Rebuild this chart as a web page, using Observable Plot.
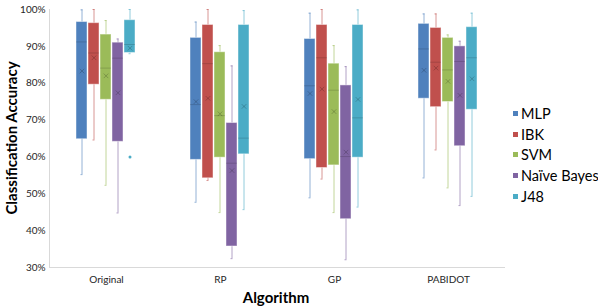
<!DOCTYPE html>
<html>
<head>
<meta charset="utf-8">
<script src="https://cdn.jsdelivr.net/npm/d3@7"></script>
<script src="https://cdn.jsdelivr.net/npm/@observablehq/plot@0.6"></script>
<style>
  html, body { margin: 0; padding: 0; background: #fff; }
  #wrap { position: relative; width: 598px; height: 307px; font-family: Lato, "Open Sans", sans-serif; }
  #wrap svg { color: #d9d9d9; }
  #wrap svg text { fill: #262626; }
  .ytitle { position: absolute; left: 11px; top: 138px; transform: translate(-50%, -50%) rotate(-90deg);
    font-weight: bold; font-size: 15px; white-space: nowrap; color: #000; }
  .xtitle { position: absolute; left: 276px; top: 297px; transform: translate(-50%, -50%);
    font-weight: bold; font-size: 15px; white-space: nowrap; color: #000; }
  .legend { position: absolute; left: 513px; top: 103px; font-size: 14.5px; color: #000; }
  .legend div { height: 20.7px; display: flex; align-items: center; white-space: nowrap; }
  .legend span.sw { display: inline-block; width: 5px; height: 5px; margin-right: 3px; }
</style>
</head>
<body>
<div id="wrap"></div>
<script>
const groups = ["Original", "RP", "GP", "PABIDOT"];
const classifiers = ["MLP", "IBK", "SVM", "Naïve Bayes", "J48"];
const colors = ["#4F81BD", "#C0504D", "#9BBB59", "#8064A2", "#4BACC6"];
const yTicks = [30, 40, 50, 60, 70, 80, 90, 100];

// rows: groups; columns: classifiers
const whiskerLow  = [[55.2, 64.6, 52.3, 44.8, 88.0], [47.7, 53.6, 44.9, 32.4, 45.7], [48.9, 54.0, 44.9, 32.1, 46.4], [54.3, 61.9, 51.6, 46.8, 49.3]];
const q1          = [[64.8, 79.6, 75.5, 64.1, 88.2], [59.2, 54.2, 59.8, 35.7, 60.7], [59.4, 57.0, 57.7, 43.1, 59.8], [75.8, 73.5, 74.9, 62.9, 72.8]];
const median      = [[91.2, 88.2, 84.1, 86.8, 90.5], [74.2, 85.3, 71.2, 58.3, 65.1], [79.3, 86.9, 78.1, 60.1, 70.6], [89.3, 85.7, 83.6, 85.9, 86.9]];
const q3          = [[96.6, 96.3, 93.2, 91.0, 97.1], [92.3, 95.8, 88.4, 69.2, 95.8], [92.0, 95.8, 85.3, 79.4, 95.8], [96.1, 95.0, 92.3, 90.0, 95.2]];
const whiskerHigh = [[99.9, 100, 97.0, 92.0, 100], [96.6, 100, 90.2, 84.7, 99.7], [99.0, 100, 90.2, 84.5, 99.9], [98.8, 98.8, 93.1, 91.4, 99.0]];
const mean        = [[83.3, 86.9, 82.0, 77.4, 89.5], [75.0, 75.9, 71.7, 56.3, 73.7], [77.2, 78.4, 72.3, 61.3, 75.6], [83.5, 84.1, 80.5, 76.7, 81.2]];
const outlierGroup = ["Original"];
const outlierClassifier = ["J48"];
const outlierValue = [60];

const rows = [];
groups.forEach((g, gi) => classifiers.forEach((c, ci) => rows.push({
  group: g, classifier: c,
  lo: whiskerLow[gi][ci], q1: q1[gi][ci], med: median[gi][ci],
  q3: q3[gi][ci], hi: whiskerHigh[gi][ci], mean: mean[gi][ci]
})));
const outliers = outlierValue.map((v, i) => ({group: outlierGroup[i], classifier: outlierClassifier[i], value: v}));

const chart = Plot.plot({
  width: 598,
  height: 307,
  marginLeft: 48,
  marginRight: 93,
  marginTop: 9,
  marginBottom: 40,
  style: { fontFamily: "Lato, 'Open Sans', sans-serif", fontSize: "10px", background: "white" },
  fx: { domain: groups, padding: 0, label: null, tickSize: 0, tickPadding: 8 },
  x: { domain: classifiers, paddingInner: 0.077, paddingOuter: 1.93, axis: null },
  y: { domain: [30, 100], ticks: yTicks, tickFormat: d => d + "%", tickSize: 0, tickPadding: 4, line: true, label: null },
  color: { domain: classifiers, range: colors },
  marks: [
    Plot.ruleY([30], { stroke: "#d9d9d9" }),
    Plot.ruleX(rows, { fx: "group", x: "classifier", y1: "lo", y2: "hi", stroke: "classifier", strokeOpacity: 0.6, strokeWidth: 1 }),
    Plot.tickY(rows, { fx: "group", x: "classifier", y: "lo", stroke: "classifier", strokeOpacity: 0.6, insetLeft: 4.5, insetRight: 4.5 }),
    Plot.tickY(rows, { fx: "group", x: "classifier", y: "hi", stroke: "classifier", strokeOpacity: 0.6, insetLeft: 4.5, insetRight: 4.5 }),
    Plot.barY(rows, { fx: "group", x: "classifier", y1: "q1", y2: "q3", fill: "classifier", stroke: "white", strokeOpacity: 0.45, strokeWidth: 1 }),
    Plot.tickY(rows, { fx: "group", x: "classifier", y: "med", stroke: "#000", strokeOpacity: 0.15 }),
    Plot.dot(rows, { fx: "group", x: "classifier", y: "mean", symbol: "times", r: 2.2, stroke: "#000", strokeOpacity: 0.2, strokeWidth: 1 }),
    Plot.dot(outliers, { fx: "group", x: "classifier", y: "value", fill: "classifier", r: 1.5 })
  ]
});

const wrap = document.getElementById("wrap");
wrap.appendChild(chart);

const yt = document.createElement("div");
yt.className = "ytitle"; yt.textContent = "Classification Accuracy";
wrap.appendChild(yt);
const xt = document.createElement("div");
xt.className = "xtitle"; xt.textContent = "Algorithm";
wrap.appendChild(xt);

const lg = document.createElement("div");
lg.className = "legend";
classifiers.forEach((c, i) => {
  const row = document.createElement("div");
  const sw = document.createElement("span");
  sw.className = "sw"; sw.style.background = colors[i];
  row.appendChild(sw);
  row.appendChild(document.createTextNode(c));
  lg.appendChild(row);
});
wrap.appendChild(lg);
</script>
</body>
</html>
